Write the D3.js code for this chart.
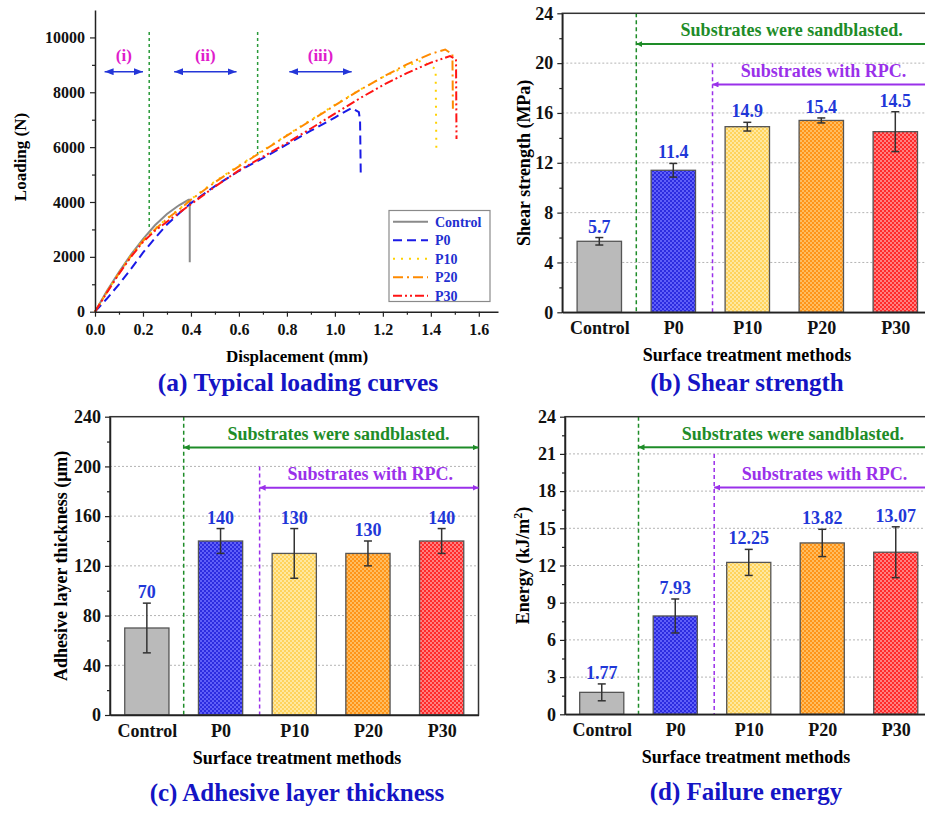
<!DOCTYPE html>
<html>
<head>
<meta charset="utf-8">
<script src="https://cdn.jsdelivr.net/npm/d3@7"></script>
<style>
  body { margin: 0; background: #fff; }
  svg { font-family: "Liberation Serif", "Times New Roman", serif; font-weight: bold; }
</style>
</head>
<body>
<svg id="chart" width="925" height="814"></svg>
<script>
// ---------- data ----------
const categories = ["Control", "P0", "P10", "P20", "P30"];

// (a) loading curves, [displacement mm, load N]
const controlCurve = [[0,0],[0.05,760],[0.1,1450],[0.15,2080],[0.2,2650],[0.25,3150],[0.3,3560],[0.35,3880],[0.39,4080],[0.395,4080],[0.395,1800]];
const p0Curve = [[0,0],[0.05,480],[0.1,1000],[0.15,1560],[0.2,2150],[0.25,2680],[0.3,3180],[0.35,3580],[0.4,3960],[0.5,4580],[0.6,5130],[0.7,5600],[0.8,6100],[0.9,6600],[1.0,7080],[1.07,7430],[1.1,7280],[1.105,6950],[1.108,4900]];
const p10Curve = [[0,0],[0.05,720],[0.1,1420],[0.15,2050],[0.2,2600],[0.25,3020],[0.3,3400],[0.35,3740],[0.4,4100],[0.5,4750],[0.6,5330],[0.7,5880],[0.8,6440],[0.9,6990],[1.0,7540],[1.1,8070],[1.2,8550],[1.3,8960],[1.36,9150],[1.42,8850],[1.423,5900]];
const p20Curve = [[0,0],[0.05,720],[0.1,1400],[0.15,2030],[0.2,2580],[0.25,3000],[0.3,3380],[0.35,3720],[0.4,4080],[0.5,4720],[0.6,5300],[0.7,5860],[0.8,6420],[0.9,6970],[1.0,7520],[1.1,8060],[1.2,8560],[1.3,9020],[1.4,9400],[1.46,9560],[1.49,9380],[1.492,7400]];
const p30Curve = [[0,0],[0.05,700],[0.1,1380],[0.15,2000],[0.2,2540],[0.25,2950],[0.3,3280],[0.35,3600],[0.4,3920],[0.5,4560],[0.6,5150],[0.7,5650],[0.8,6150],[0.9,6680],[1.0,7220],[1.1,7760],[1.2,8260],[1.3,8700],[1.4,9080],[1.48,9320],[1.505,9200],[1.507,6300]];

// stage markers in (a)
const stageLabels = ["(i)", "(ii)", "(iii)"];
const stageFrom = [0.04, 0.33, 0.81];
const stageTo = [0.2, 0.59, 1.07];
const stageBounds = [0.226, 0.678];
const stageBoundLow = [3000, 5700];

// (b) shear strength MPa
const shearMean = [5.7, 11.4, 14.9, 15.4, 14.5];
const shearErr = [0.3, 0.55, 0.35, 0.2, 1.6];
// (c) adhesive layer thickness um
const thickMean = [70, 140, 130, 130, 140];
const thickErr = [20, 10, 20, 10, 10];
// (d) failure energy kJ/m2
const energyMean = [1.77, 7.93, 12.25, 13.82, 13.07];
const energyErr = [0.68, 1.37, 1.05, 1.1, 2.05];

// ---------- styles ----------
const barBase = ["#bababa", "#2c2ce0", "#ffd35c", "#ff9418", "#ff2a2a"];
const barLight = [null, "#6060f8", "#ffe8a0", "#ffbd60", "#ff8080"];
const titleColor = "#1414c4";
const valueColor = "#1f38d8";
const green = "#1e8c28";
const purple = "#9a30ea";

const svg = d3.select("#chart");
const defs = svg.append("defs");

barBase.forEach((c, i) => {
  const p = defs.append("pattern").attr("id", "pat" + i)
    .attr("patternUnits", "userSpaceOnUse").attr("width", 4).attr("height", 4);
  p.append("rect").attr("width", 4).attr("height", 4).attr("fill", c);
  if (barLight[i]) {
    p.append("rect").attr("width", 2).attr("height", 2).attr("fill", barLight[i]);
    p.append("rect").attr("x", 2).attr("y", 2).attr("width", 2).attr("height", 2).attr("fill", barLight[i]);
  }
});

function addMarker(id, color, w, h) {
  defs.append("marker").attr("id", id)
    .attr("viewBox", "0 0 10 10").attr("refX", 10).attr("refY", 5)
    .attr("markerUnits", "userSpaceOnUse")
    .attr("markerWidth", w).attr("markerHeight", h)
    .attr("preserveAspectRatio", "none")
    .attr("orient", "auto-start-reverse")
    .append("path").attr("d", "M0,0L10,5L0,10z").attr("fill", color);
}
addMarker("arrBlue", "#2436d8", 9, 7);
addMarker("arrGreen", green, 6, 6);
addMarker("arrPurple", purple, 6, 6);

function styleAxis(g, size) {
  g.attr("font-family", null).attr("font-size", size).attr("color", "#222");
  g.select(".domain").attr("stroke-width", 1.5);
  g.selectAll(".tick line").attr("stroke-width", 1.2);
  g.selectAll(".tick text").attr("fill", "#111");
}

// ---------- (a) loading curves ----------
const xa = d3.scaleLinear().domain([0, 1.68]).range([95, 498]);
const ya = d3.scaleLinear().domain([0, 11000]).range([311.7, 10]);

const ga = svg.append("g");

// stage boundaries
ga.selectAll(".bound").data(stageBounds).join("line")
  .attr("x1", d => xa(d)).attr("x2", d => xa(d))
  .attr("y1", ya(10200)).attr("y2", (d, i) => ya(stageBoundLow[i]))
  .attr("stroke", "#2a9a3a").attr("stroke-width", 1.5).attr("stroke-dasharray", "3,3");

const curves = [controlCurve, p0Curve, p10Curve, p20Curve, p30Curve];
const curveColors = ["#8a8a8a", "#1a1ae6", "#ffd200", "#ff8a00", "#ff1414"];
const curveDash = [null, "9,5", "2,6", "10,4,2,4", "9,3,2,3,2,3"];
const line = d3.line().x(d => xa(d[0])).y(d => ya(d[1]));

ga.selectAll(".curve").data(curves).join("path")
  .attr("d", line).attr("fill", "none")
  .attr("stroke", (d, i) => curveColors[i])
  .attr("stroke-width", 2)
  .attr("stroke-dasharray", (d, i) => curveDash[i]);

// stage arrows and labels
ga.selectAll(".stage").data(stageLabels).join("line")
  .attr("x1", (d, i) => xa(stageFrom[i])).attr("x2", (d, i) => xa(stageTo[i]))
  .attr("y1", ya(8750)).attr("y2", ya(8750))
  .attr("stroke", "#2436d8").attr("stroke-width", 1.5)
  .attr("marker-start", "url(#arrBlue)").attr("marker-end", "url(#arrBlue)");
ga.selectAll(".stageText").data(stageLabels).join("text")
  .attr("x", (d, i) => xa((stageFrom[i] + stageTo[i]) / 2)).attr("y", ya(9150))
  .attr("text-anchor", "middle").attr("font-size", 17).attr("fill", "#e01ccc")
  .text(d => d);

// axes
ga.append("g").attr("transform", "translate(0,311.7)")
  .call(d3.axisBottom(xa).tickValues(d3.range(0.1, 1.65, 0.2)).tickSize(3).tickFormat(""))
  .call(g => g.select(".domain").remove())
  .call(g => styleAxis(g, 16));
ga.append("g").attr("transform", "translate(0,311.7)")
  .call(d3.axisBottom(xa).tickValues(d3.range(0, 1.61, 0.2)).tickSize(5).tickSizeOuter(0).tickPadding(7).tickFormat(d3.format(".1f")))
  .call(g => styleAxis(g, 16));
ga.append("g").attr("transform", "translate(95,0)")
  .call(d3.axisLeft(ya).tickValues(d3.range(1000, 11000, 2000)).tickSize(3).tickFormat(""))
  .call(g => g.select(".domain").remove())
  .call(g => styleAxis(g, 16));
ga.append("g").attr("transform", "translate(95,0)")
  .call(d3.axisLeft(ya).tickValues(d3.range(0, 10001, 2000)).tickSize(5).tickSizeOuter(0).tickPadding(5).tickFormat(d3.format("d")))
  .call(g => styleAxis(g, 16));

ga.append("text").attr("transform", "translate(20,157) rotate(-90)")
  .attr("dy", "0.35em").attr("text-anchor", "middle").attr("font-size", 17)
  .text("Loading (N)");
ga.append("text").attr("x", 297).attr("y", 362)
  .attr("text-anchor", "middle").attr("font-size", 17).text("Displacement (mm)");
ga.append("text").attr("x", 298).attr("y", 391)
  .attr("text-anchor", "middle").attr("font-size", 25.5).attr("fill", titleColor)
  .text("(a) Typical loading curves");

// legend
const lg = ga.append("g");
lg.append("rect").attr("x", 389).attr("y", 210.5).attr("width", 101).attr("height", 91)
  .attr("fill", "#fff").attr("stroke", "#8a8a8a").attr("stroke-width", 1.2);
categories.forEach((c, i) => {
  const yy = 221.7 + i * 18.5;
  lg.append("line").attr("x1", 393).attr("x2", 428).attr("y1", yy).attr("y2", yy)
    .attr("stroke", curveColors[i]).attr("stroke-width", 2)
    .attr("stroke-dasharray", curveDash[i]);
  lg.append("text").attr("x", 435).attr("y", yy).attr("dy", "0.35em")
    .attr("font-size", 14).attr("fill", "#1f30d0").text(c);
});

// ---------- bar panels ----------
function barPanel(o) {
  const x = d3.scaleLinear().domain([0.5, 5.5]).range([o.left, o.left + 5 * o.band]);
  const y = d3.scaleLinear().domain([0, o.yMax]).range([o.bottom, o.top]);
  const g = svg.append("g");

  // dotted grid
  g.selectAll(".grid").data(d3.range(o.yStep, o.yMax - o.yStep / 2, o.yStep)).join("line")
    .attr("x1", x(0.5)).attr("x2", x(5.5))
    .attr("y1", d => y(d)).attr("y2", d => y(d))
    .attr("stroke", "#b4b4b4").attr("stroke-width", 1).attr("stroke-dasharray", "2,2");

  // treatment boundaries
  g.append("line").attr("x1", x(1.5)).attr("x2", x(1.5))
    .attr("y1", y(o.yMax)).attr("y2", y(0))
    .attr("stroke", green).attr("stroke-width", 1.5).attr("stroke-dasharray", "4,3");
  g.append("line").attr("x1", x(2.53)).attr("x2", x(2.53))
    .attr("y1", y(o.purpleTop)).attr("y2", y(0))
    .attr("stroke", purple).attr("stroke-width", 1.5).attr("stroke-dasharray", "4,3");

  // bars
  g.selectAll(".bar").data(o.means).join("rect")
    .attr("x", (d, i) => x(i + 0.7)).attr("width", x(1.6) - x(1))
    .attr("y", d => y(d)).attr("height", d => y(0) - y(d))
    .attr("fill", (d, i) => "url(#pat" + i + ")")
    .attr("stroke", "#555").attr("stroke-width", 1.3);

  // error bars
  const eg = g.selectAll(".err").data(o.means).join("g");
  eg.append("line")
    .attr("x1", (d, i) => x(i + 1)).attr("x2", (d, i) => x(i + 1))
    .attr("y1", (d, i) => y(d - o.errs[i])).attr("y2", (d, i) => y(d + o.errs[i]));
  eg.append("line")
    .attr("x1", (d, i) => x(i + 1) - 4).attr("x2", (d, i) => x(i + 1) + 4)
    .attr("y1", (d, i) => y(d - o.errs[i])).attr("y2", (d, i) => y(d - o.errs[i]));
  eg.append("line")
    .attr("x1", (d, i) => x(i + 1) - 4).attr("x2", (d, i) => x(i + 1) + 4)
    .attr("y1", (d, i) => y(d + o.errs[i])).attr("y2", (d, i) => y(d + o.errs[i]));
  eg.selectAll("line").attr("stroke", "#333").attr("stroke-width", 1.5);

  // value labels
  g.selectAll(".val").data(o.means).join("text")
    .attr("x", (d, i) => x(i + 1)).attr("y", (d, i) => y(d + o.errs[i]) - 5)
    .attr("text-anchor", "middle").attr("font-size", 18).attr("fill", valueColor)
    .text(d => String(d));

  // frame
  g.append("rect").attr("x", x(0.5)).attr("y", y(o.yMax))
    .attr("width", x(5.5) - x(0.5)).attr("height", y(0) - y(o.yMax))
    .attr("fill", "none").attr("stroke", "#333").attr("stroke-width", 1.5);

  // axes
  g.append("g").attr("transform", "translate(" + x(0.5) + ",0)")
    .call(d3.axisLeft(y).tickValues(d3.range(o.yStep / 2, o.yMax, o.yStep)).tickSize(3).tickFormat(""))
    .call(a => a.select(".domain").remove())
    .call(a => styleAxis(a, 18));
  g.append("g").attr("transform", "translate(" + x(0.5) + ",0)")
    .call(d3.axisLeft(y).tickValues(d3.range(0, o.yMax + o.yStep / 2, o.yStep)).tickSize(5).tickSizeOuter(0).tickPadding(4).tickFormat(d3.format("d")))
    .call(a => styleAxis(a, 18));
  g.append("g").attr("transform", "translate(0," + y(0) + ")")
    .call(d3.axisBottom(x).tickValues([1, 2, 3, 4, 5]).tickSize(0).tickSizeOuter(0).tickPadding(9).tickFormat(d => categories[d - 1]))
    .call(a => styleAxis(a, 18));

  // annotation arrows
  g.append("line").attr("x1", x(1.5)).attr("x2", x(5.5))
    .attr("y1", y(o.yMax * 0.897)).attr("y2", y(o.yMax * 0.897))
    .attr("stroke", green).attr("stroke-width", 2)
    .attr("marker-start", "url(#arrGreen)").attr("marker-end", "url(#arrGreen)");
  g.append("text").attr("x", x(3.6)).attr("y", y(o.yMax * 0.923))
    .attr("text-anchor", "middle").attr("font-size", 18).attr("fill", green)
    .text("Substrates were sandblasted.");
  g.append("line").attr("x1", x(2.53)).attr("x2", x(5.5))
    .attr("y1", y(o.yMax * 0.762)).attr("y2", y(o.yMax * 0.762))
    .attr("stroke", purple).attr("stroke-width", 2)
    .attr("marker-start", "url(#arrPurple)").attr("marker-end", "url(#arrPurple)");
  g.append("text").attr("x", x(4.03)).attr("y", y(o.yMax * 0.787))
    .attr("text-anchor", "middle").attr("font-size", 18).attr("fill", purple)
    .text("Substrates with RPC.");

  // titles
  const yt = g.append("text")
    .attr("transform", "translate(" + (x(0.5) - o.yTitleOff) + "," + ((o.top + o.bottom) / 2) + ") rotate(-90)")
    .attr("dy", "0.35em").attr("text-anchor", "middle").attr("font-size", 18);
  o.yTitle(yt);
  g.append("text").attr("x", o.titleX).attr("y", o.bottom + 49)
    .attr("text-anchor", "middle").attr("font-size", 18).text("Surface treatment methods");
  g.append("text").attr("x", o.titleX).attr("y", o.bottom + o.titleOff)
    .attr("text-anchor", "middle").attr("font-size", 25).attr("fill", titleColor)
    .text(o.title);
}

barPanel({
  left: 562.3, top: 13.3, bottom: 312.3, band: 74,
  yMax: 24, yStep: 4, purpleTop: 20,
  means: shearMean, errs: shearErr,
  yTitleOff: 39, titleX: 747, titleOff: 79,
  yTitle: t => t.text("Shear strength (MPa)"),
  title: "(b) Shear strength"
});
barPanel({
  left: 110, top: 416.7, bottom: 715, band: 73.7,
  yMax: 240, yStep: 40, purpleTop: 200,
  means: thickMean, errs: thickErr,
  yTitleOff: 49, titleX: 297, titleOff: 86,
  yTitle: t => t.text("Adhesive layer thickness (μm)"),
  title: "(c) Adhesive layer thickness"
});
barPanel({
  left: 565, top: 416.7, bottom: 714.3, band: 73.5,
  yMax: 24, yStep: 3, purpleTop: 21,
  means: energyMean, errs: energyErr,
  yTitleOff: 42, titleX: 746, titleOff: 86,
  yTitle: t => {
    t.append("tspan").text("Energy (kJ/m");
    t.append("tspan").attr("baseline-shift", "super").attr("font-size", 12).text("2");
    t.append("tspan").text(")");
  },
  title: "(d) Failure energy"
});
</script>
</body>
</html>
